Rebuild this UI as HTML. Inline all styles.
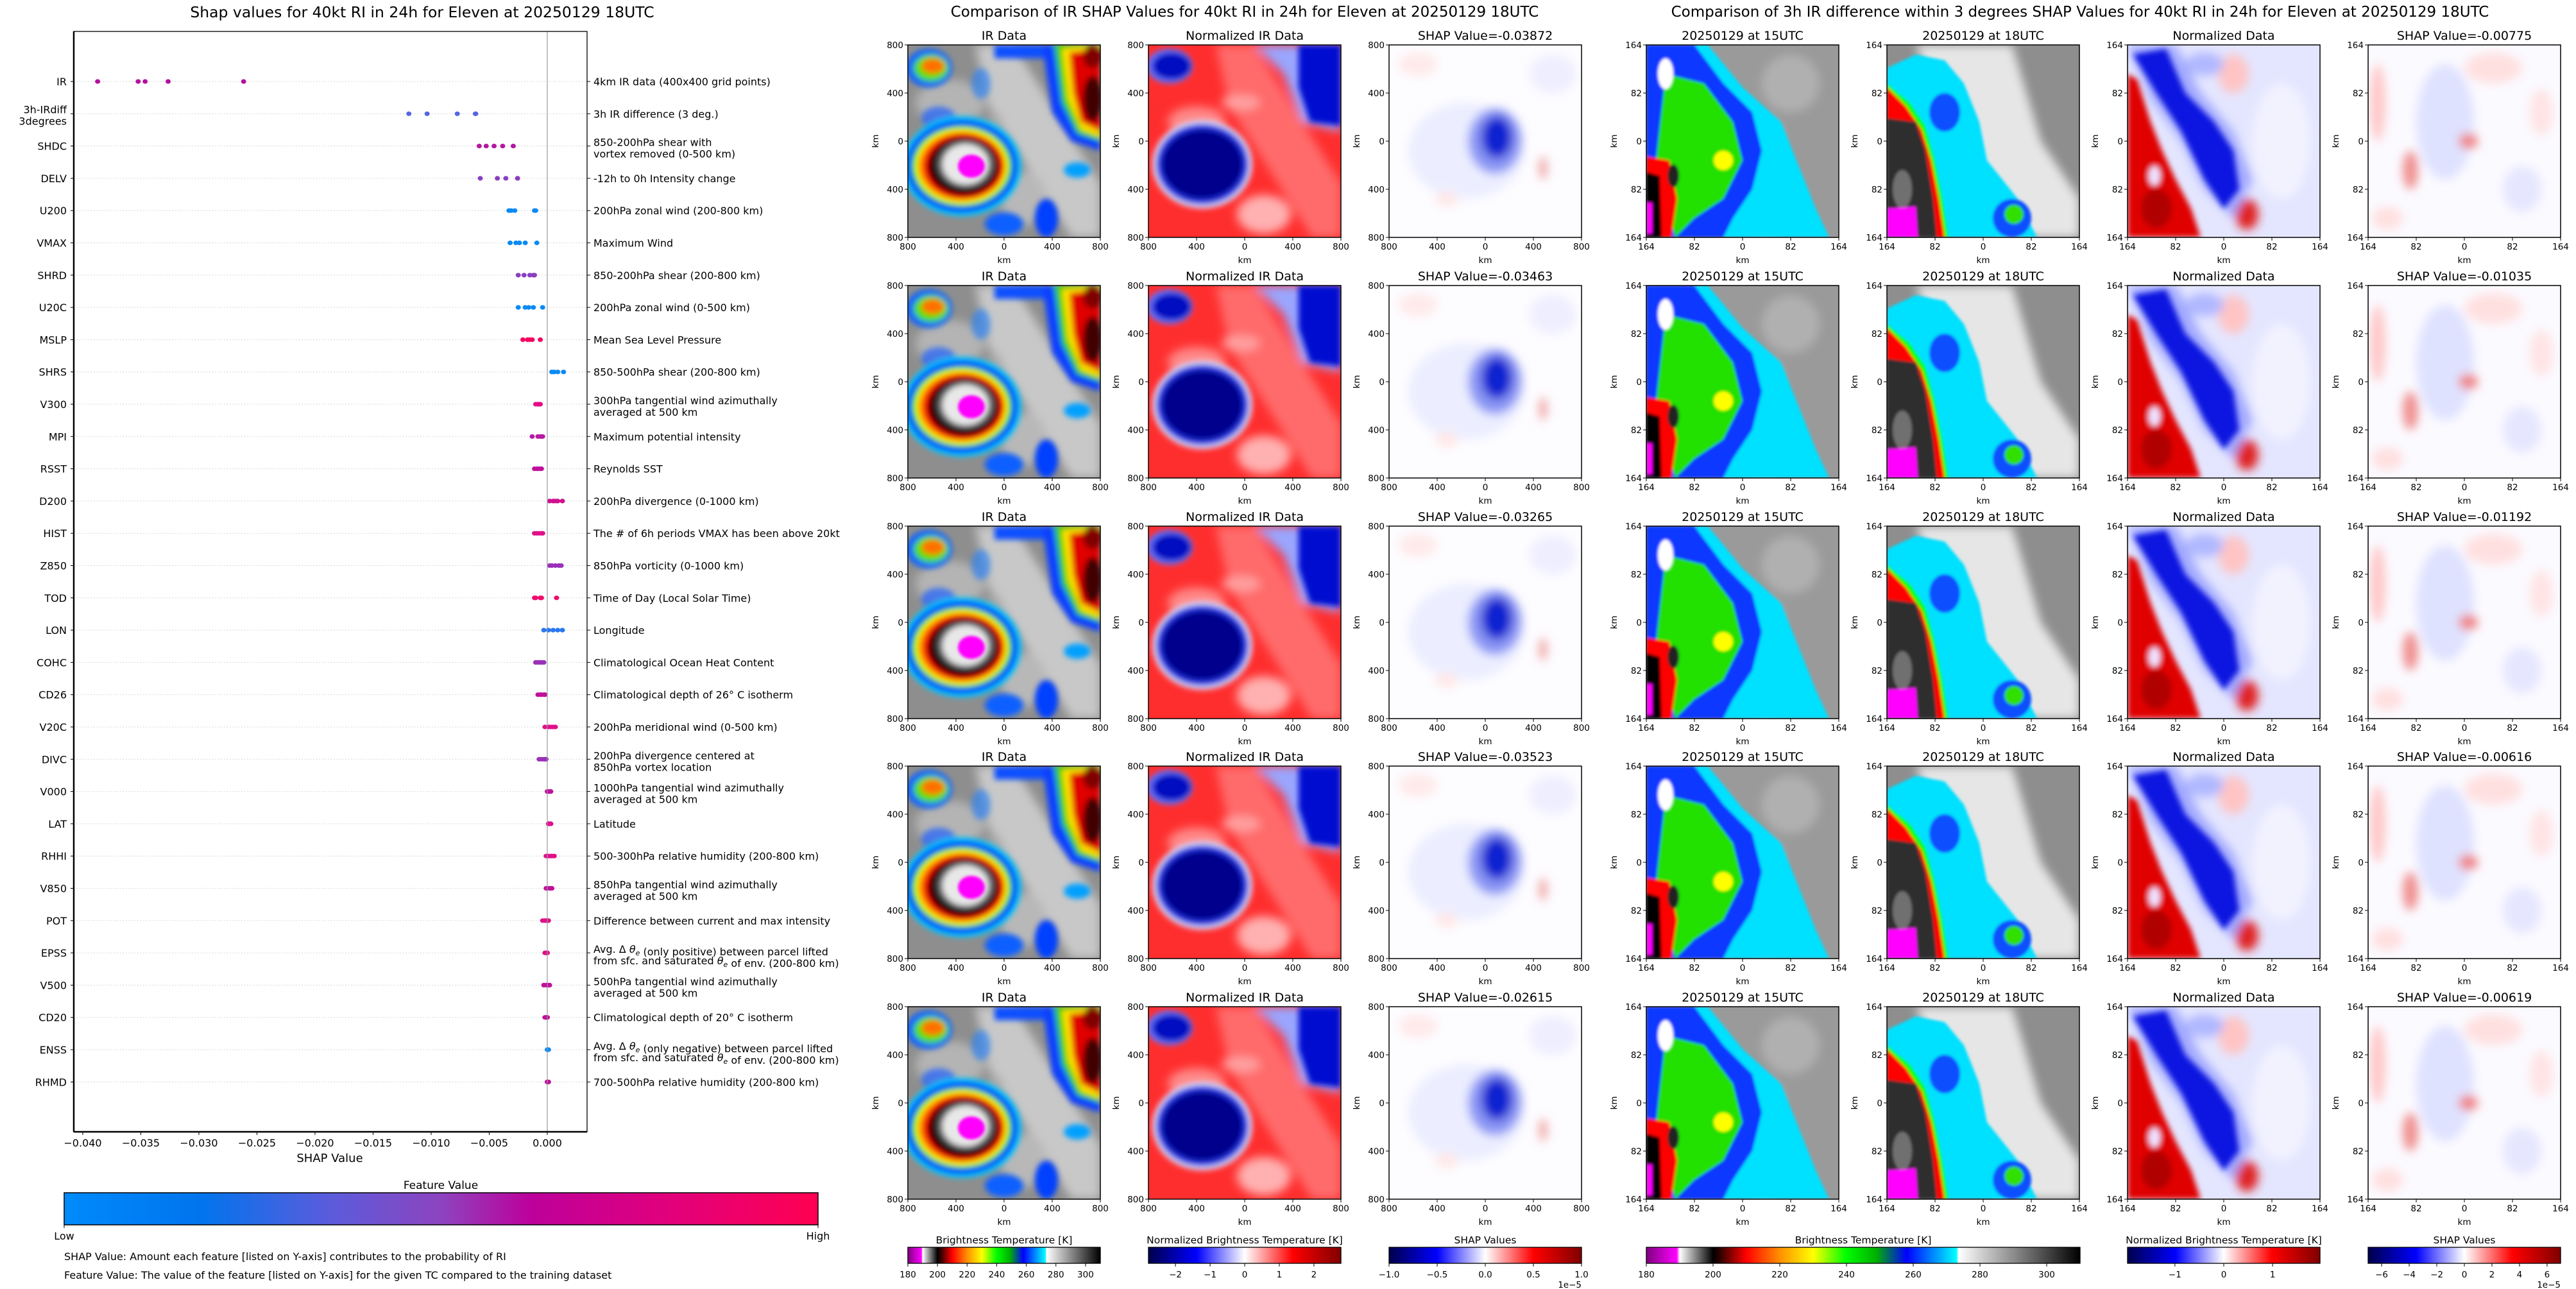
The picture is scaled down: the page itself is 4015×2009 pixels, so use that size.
<!DOCTYPE html>
<html><head><meta charset="utf-8"><style>
html,body{margin:0;padding:0;background:#fff}
svg{display:block;font-family:"DejaVu Sans","Liberation Sans",sans-serif}
</style></head><body>
<svg id="root" xmlns="http://www.w3.org/2000/svg" width="4015" height="2009" viewBox="0 0 4015 2009">
<defs>
<linearGradient id="g-feat" x1="0" x2="1" y1="0" y2="0">
<stop offset="0" stop-color="#008bfb"/><stop offset="0.18" stop-color="#0074ed"/><stop offset="0.35" stop-color="#5a5cdc"/><stop offset="0.5" stop-color="#8d44bf"/><stop offset="0.62" stop-color="#bd009b"/><stop offset="0.8" stop-color="#e1007c"/><stop offset="1" stop-color="#ff0052"/>
</linearGradient>
<linearGradient id="g-ir" x1="0" x2="1" y1="0" y2="0">
<stop offset="0" stop-color="#800080"/><stop offset="0.07" stop-color="#ff00ff"/><stop offset="0.077" stop-color="#ffffff"/><stop offset="0.154" stop-color="#000000"/><stop offset="0.17" stop-color="#300000"/><stop offset="0.23" stop-color="#ff0000"/><stop offset="0.308" stop-color="#ff9000"/><stop offset="0.385" stop-color="#ffff00"/><stop offset="0.46" stop-color="#00ff00"/><stop offset="0.53" stop-color="#00b000"/><stop offset="0.6" stop-color="#0000ff"/><stop offset="0.715" stop-color="#00ffff"/><stop offset="0.72" stop-color="#ffffff"/><stop offset="1" stop-color="#000000"/>
</linearGradient>
<linearGradient id="g-seis" x1="0" x2="1" y1="0" y2="0">
<stop offset="0" stop-color="#00004c"/><stop offset="0.25" stop-color="#0000ff"/><stop offset="0.5" stop-color="#ffffff"/><stop offset="0.75" stop-color="#ff0000"/><stop offset="1" stop-color="#800000"/>
</linearGradient>
<filter id="b2" x="-20%" y="-20%" width="140%" height="140%"><feGaussianBlur stdDeviation="2.5"/></filter>
<filter id="b1" x="-20%" y="-20%" width="140%" height="140%"><feGaussianBlur stdDeviation="1.4"/></filter>
<filter id="b05" x="-20%" y="-20%" width="140%" height="140%"><feGaussianBlur stdDeviation="0.7"/></filter>

<symbol id="sym-ir" viewBox="0 0 100 100" preserveAspectRatio="none">
<rect width="100" height="100" fill="#8e8e8e"/>
<g filter="url(#b2)">
<polygon points="35,0 55,0 100,72 100,100 85,100 42,32" fill="#c8c8c8"/>
<ellipse cx="22" cy="30" rx="18" ry="12" fill="#b4b4b4"/>
<ellipse cx="60" cy="80" rx="12" ry="14" fill="#b8b8b8"/>
<ellipse cx="45" cy="55" rx="6" ry="20" fill="#a8a8a8"/>
</g>
<g filter="url(#b1)">
<rect x="45" y="0" width="55" height="7" fill="#1050ff"/>
<polygon points="70,0 100,0 100,55 85,50 75,35 72,15" fill="#1040ff"/>
<polygon points="76,0 100,0 100,50 88,46 80,30" fill="#30d000"/>
<polygon points="80,2 100,0 100,48 90,44 83,28" fill="#ffe000"/>
<polygon points="84,4 100,2 100,45 90,40 86,25" fill="#e00000"/>
<ellipse cx="96" cy="28" rx="5" ry="12" fill="#400000"/>
<ellipse cx="96" cy="6" rx="5" ry="6" fill="#800000"/>
<ellipse cx="11" cy="12" rx="12" ry="10" fill="#1060ff"/>
<ellipse cx="12" cy="12" rx="9" ry="7" fill="#50e000"/>
<ellipse cx="13" cy="11" rx="6" ry="4" fill="#ff7000"/>
<ellipse cx="16" cy="38" rx="9" ry="6" fill="#2060ff" opacity="0.7"/>
<ellipse cx="38" cy="20" rx="5" ry="8" fill="#2080ff" opacity="0.6"/>
<ellipse cx="72" cy="90" rx="6" ry="10" fill="#0040ff"/>
<ellipse cx="50" cy="93" rx="10" ry="6" fill="#1060ff"/>
<ellipse cx="88" cy="65" rx="7" ry="4" fill="#00a0ff"/>
<ellipse cx="28" cy="63" rx="31" ry="26" fill="#00c8ff"/>
<ellipse cx="28" cy="63" rx="29" ry="24" fill="#0030ff"/>
<ellipse cx="28" cy="63" rx="26" ry="21" fill="#30e000"/>
<ellipse cx="28" cy="63" rx="24" ry="19.5" fill="#ffff00"/>
<ellipse cx="28" cy="63" rx="22.5" ry="18" fill="#ff8000"/>
<ellipse cx="29" cy="63" rx="21" ry="17" fill="#ff0000"/>
<ellipse cx="29" cy="63" rx="19" ry="15.5" fill="#700000"/>
<ellipse cx="29" cy="63" rx="17" ry="14" fill="#000000"/>
<ellipse cx="30" cy="62" rx="15" ry="12.5" fill="#606060"/>
<ellipse cx="30" cy="62" rx="12" ry="10.5" fill="#e8e8e8"/>
</g>
<g filter="url(#b05)"><ellipse cx="33" cy="63" rx="7" ry="6" fill="#ff00ff"/></g>
</symbol>

<symbol id="sym-nir" viewBox="0 0 100 100" preserveAspectRatio="none">
<rect width="100" height="100" fill="#ff2e2e"/>
<g filter="url(#b2)">
<polygon points="35,0 55,0 100,72 100,100 85,100 42,32" fill="#ff6a6a"/>
<ellipse cx="25" cy="40" rx="15" ry="8" fill="#ff8a8a"/>
<ellipse cx="60" cy="88" rx="14" ry="10" fill="#ffb0b0"/>
<ellipse cx="48" cy="30" rx="10" ry="4" fill="#ffa0a0"/>
<polygon points="55,0 100,0 100,45 80,40 70,15" fill="#9aa6ff"/>
</g>
<g filter="url(#b1)">
<polygon points="78,0 100,0 100,42 84,40 78,22" fill="#0010d0"/>
<ellipse cx="11" cy="11" rx="12" ry="9" fill="#6070ff"/>
<ellipse cx="12" cy="11" rx="10" ry="7" fill="#0010c0"/>
<ellipse cx="28" cy="62" rx="26" ry="23" fill="#d8dcff"/>
<ellipse cx="28" cy="62" rx="24" ry="21" fill="#2030e0"/>
<ellipse cx="28" cy="62" rx="21" ry="18" fill="#00008c"/>
</g>
</symbol>

<symbol id="sym-sir" viewBox="0 0 100 100" preserveAspectRatio="none">
<rect width="100" height="100" fill="#fdfcff"/>
<g filter="url(#b2)">
<ellipse cx="40" cy="55" rx="30" ry="25" fill="#eceeff"/>
<ellipse cx="15" cy="10" rx="10" ry="6" fill="#ffeaea"/>
<ellipse cx="85" cy="15" rx="12" ry="10" fill="#eeeeff"/>
<ellipse cx="30" cy="80" rx="6" ry="4" fill="#ffe8e8"/>
<ellipse cx="55" cy="50" rx="14" ry="17" fill="#8a96f4"/>
<ellipse cx="56" cy="48" rx="8" ry="11" fill="#1020d0"/>
<ellipse cx="80" cy="64" rx="2" ry="6" fill="#f0a0a0"/>
</g>
</symbol>

<symbol id="sym-a15" viewBox="0 0 100 100" preserveAspectRatio="none">
<rect width="100" height="100" fill="#9a9a9a"/>
<g filter="url(#b2)">
<ellipse cx="62" cy="85" rx="12" ry="14" fill="#e0e0e0"/>
<ellipse cx="60" cy="50" rx="10" ry="12" fill="#e8e8e8"/>
<ellipse cx="75" cy="20" rx="15" ry="15" fill="#b0b0b0"/>
</g>
<g filter="url(#b05)">
<polygon points="0,0 32,0 50,22 70,40 78,60 88,85 95,100 0,100" fill="#00e0ff"/>
<polygon points="0,0 25,0 40,20 55,35 60,55 55,75 45,90 40,100 0,100" fill="#0838ff"/>
<polygon points="10,15 30,20 45,40 50,60 40,80 25,90 15,100 5,60" fill="#20e000"/>
<ellipse cx="40" cy="60" rx="5" ry="5" fill="#ffff00"/>
<ellipse cx="10" cy="15" rx="4" ry="8" fill="#ffffff"/>
<polygon points="0,58 12,60 16,80 13,100 0,100" fill="#ff0000"/>
<polygon points="0,66 7,68 8,100 0,100" fill="#000000"/>
<ellipse cx="14" cy="68" rx="3" ry="6" fill="#202020"/>
<rect x="0" y="82" width="3" height="16" fill="#ff00ff"/>
</g>
</symbol>

<symbol id="sym-a18" viewBox="0 0 100 100" preserveAspectRatio="none">
<rect width="100" height="100" fill="#8e8e8e"/>
<g filter="url(#b2)">
<polygon points="15,0 65,0 80,50 100,80 100,100 55,100" fill="#e6e6e6"/>
</g>
<g filter="url(#b05)">
<polygon points="0,12 15,5 30,8 40,20 48,40 52,60 68,80 78,100 20,100 0,45" fill="#00e0ff"/>
<ellipse cx="30" cy="35" rx="8" ry="10" fill="#0a50ff"/>
<ellipse cx="65" cy="90" rx="10" ry="10" fill="#0a50ff"/>
<ellipse cx="66" cy="88" rx="5" ry="5" fill="#30e000"/>
<ellipse cx="60" cy="55" rx="5" ry="8" fill="#e6e6e6"/>
<polygon points="0,20 12,30 20,42 25,60 29,80 32,100 0,100" fill="#00ff00"/>
<polygon points="0,22 10,32 18,44 23,60 27,80 30,100 0,100" fill="#ff0000"/>
<polygon points="0,38 15,40 20,55 24,80 26,100 0,100" fill="#2e2e2e"/>
<ellipse cx="8" cy="75" rx="5" ry="10" fill="#707070"/>
<polygon points="0,85 15,84 16,100 0,100" fill="#ff00ff"/>
</g>
</symbol>

<symbol id="sym-n3" viewBox="0 0 100 100" preserveAspectRatio="none">
<rect width="100" height="100" fill="#e4e6ff"/>
<g filter="url(#b2)">
<ellipse cx="55" cy="15" rx="8" ry="10" fill="#ffc4c4"/>
<ellipse cx="80" cy="50" rx="15" ry="30" fill="#f2f2ff"/>
<ellipse cx="62" cy="88" rx="6" ry="8" fill="#e02020"/>
<ellipse cx="40" cy="10" rx="10" ry="6" fill="#b0b8ff"/>
<polygon points="0,0 25,0 38,25 55,45 65,70 55,90 40,75 28,50 12,28" fill="#a0a8ff"/>
</g>
<g filter="url(#b1)">
<polygon points="3,5 20,2 30,25 45,40 55,55 58,75 50,85 40,70 28,45 15,25" fill="#0818e0"/>
<polygon points="0,15 5,18 12,40 18,55 25,70 33,85 38,100 0,100" fill="#e00000"/>
<ellipse cx="15" cy="85" rx="8" ry="10" fill="#b00000"/>
<ellipse cx="14" cy="68" rx="3" ry="5" fill="#f0e0ff"/>
</g>
</symbol>

<symbol id="sym-s3" viewBox="0 0 100 100" preserveAspectRatio="none">
<rect width="100" height="100" fill="#fbfaff"/>
<g filter="url(#b2)">
<ellipse cx="5" cy="30" rx="4" ry="20" fill="#ffc8c8"/>
<ellipse cx="40" cy="40" rx="15" ry="30" fill="#dfe2ff"/>
<ellipse cx="65" cy="12" rx="15" ry="8" fill="#ffe0e0"/>
<ellipse cx="52" cy="50" rx="5" ry="4" fill="#f08080"/>
<ellipse cx="22" cy="65" rx="4" ry="10" fill="#f09090"/>
<ellipse cx="80" cy="75" rx="10" ry="12" fill="#e6e6ff"/>
<ellipse cx="10" cy="90" rx="8" ry="6" fill="#ffe0e0"/>
<ellipse cx="90" cy="35" rx="6" ry="12" fill="#ffe4e4"/>
</g>
</symbol>
</defs>
<g id="layer"></g>
</svg>
<script>
// ===== SHAP summary chart data =====
const features = ["IR","3h-IRdiff|3degrees","SHDC","DELV","U200","VMAX","SHRD","U20C","MSLP","SHRS","V300","MPI","RSST","D200","HIST","Z850","TOD","LON","COHC","CD26","V20C","DIVC","V000","LAT","RHHI","V850","POT","EPSS","V500","CD20","ENSS","RHMD"];
const descriptions = ["4km IR data (400x400 grid points)","3h IR difference (3 deg.)","850-200hPa shear with|vortex removed (0-500 km)","-12h to 0h Intensity change","200hPa zonal wind (200-800 km)","Maximum Wind","850-200hPa shear (200-800 km)","200hPa zonal wind (0-500 km)","Mean Sea Level Pressure","850-500hPa shear (200-800 km)","300hPa tangential wind azimuthally|averaged at 500 km","Maximum potential intensity","Reynolds SST","200hPa divergence (0-1000 km)","The # of 6h periods VMAX has been above 20kt","850hPa vorticity (0-1000 km)","Time of Day (Local Solar Time)","Longitude","Climatological Ocean Heat Content","Climatological depth of 26° C isotherm","200hPa meridional wind (0-500 km)","200hPa divergence centered at|850hPa vortex location","1000hPa tangential wind azimuthally|averaged at 500 km","Latitude","500-300hPa relative humidity (200-800 km)","850hPa tangential wind azimuthally|averaged at 500 km","Difference between current and max intensity","Avg. Δ @ (only positive) between parcel lifted|from sfc. and saturated @ of env. (200-800 km)","500hPa tangential wind azimuthally|averaged at 500 km","Climatological depth of 20° C isotherm","Avg. Δ @ (only negative) between parcel lifted|from sfc. and saturated @ of env. (200-800 km)","700-500hPa relative humidity (200-800 km)"];
const shapValues = [
[-0.03872,-0.03463,-0.03265,-0.03523,-0.02615],
[-0.00775,-0.01035,-0.01192,-0.00616,-0.00619],
[-0.00586,-0.00526,-0.00458,-0.00384,-0.00293],
[-0.00577,-0.0043,-0.00357,-0.00256,-0.00256],
[-0.0033,-0.0031,-0.0028,-0.0011,-0.001],
[-0.0032,-0.0027,-0.0024,-0.0019,-0.0009],
[-0.0025,-0.002,-0.0015,-0.0012,-0.0011],
[-0.0025,-0.0019,-0.0016,-0.0012,-0.0004],
[-0.0021,-0.0017,-0.0015,-0.0013,-0.0006],
[0.0004,0.0006,0.0009,0.0014,0.0004],
[-0.001,-0.0008,-0.0007,-0.0006,-0.0008],
[-0.0013,-0.0008,-0.0006,-0.0004,-0.0005],
[-0.0011,-0.0009,-0.0008,-0.0006,-0.0005],
[0.0002,0.0005,0.0007,0.0009,0.0013],
[-0.0011,-0.0009,-0.0007,-0.0005,-0.0004],
[0.0002,0.0004,0.0007,0.001,0.0012],
[-0.0011,-0.001,-0.0006,-0.0005,0.0008],
[-0.0003,0.0001,0.0005,0.0009,0.0013],
[-0.001,-0.0008,-0.0006,-0.0005,-0.0003],
[-0.0008,-0.0006,-0.0005,-0.0003,-0.0002],
[-0.0002,0.0001,0.0003,0.0005,0.0007],
[-0.0007,-0.0005,-0.0003,-0.0002,-0.0001],
[0,0.0001,0.0002,0.0002,0.0003],
[0.0001,0.0001,0.0002,0.0003,0.0003],
[-0.0001,0.0001,0.0003,0.0004,0.0006],
[-0.0001,0,0.0002,0.0003,0.0004],
[-0.0004,-0.0002,-0.0001,0,0.0001],
[-0.0002,-0.0001,-0.0001,0,0],
[-0.0003,-0.0001,0,0.0001,0.0002],
[-0.0002,-0.0001,-0.0001,0,0],
[0,0.00005,0.0001,0.0001,0],
[0,0.00005,0.0001,0.0001,0]];
const dotColors = ["#b3119d","#5865e0","#b3189f","#8a3fc0","#0a8af5","#0a8af5","#8a3fc0","#0a8af5","#f5055f","#0a8af5","#e60a85","#b81aa5","#c0109a","#d0108f","#e0108a","#9a30b8","#f00a6a","#2a78f0","#9a30b8","#c0109a","#e0108a","#9a30b8","#c0109a","#e0108a","#e0108a","#c0109a","#e0108a","#e0108a","#c0109a","#c0109a","#0a8af5","#c0109a"];
const xTicks = [-0.04,-0.035,-0.03,-0.025,-0.02,-0.015,-0.01,-0.005,0];
const xTickLabels = ["\u22120.040","\u22120.035","\u22120.030","\u22120.025","\u22120.020","\u22120.015","\u22120.010","\u22120.005","0.000"];
// ===== panel titles =====
const irShapTitles = ["SHAP Value=-0.03872","SHAP Value=-0.03463","SHAP Value=-0.03265","SHAP Value=-0.03523","SHAP Value=-0.02615"];
const diffShapTitles = ["SHAP Value=-0.00775","SHAP Value=-0.01035","SHAP Value=-0.01192","SHAP Value=-0.00616","SHAP Value=-0.00619"];

const NS="http://www.w3.org/2000/svg";
const layer=document.getElementById('layer');
function mk(tag,attrs,parent){const e=document.createElementNS(NS,tag);for(const k in attrs)e.setAttribute(k,attrs[k]);(parent||layer).appendChild(e);return e;}
function txt(s,x,y,size,anchor,parent,extra){const e=mk('text',Object.assign({x:x,y:y,'font-size':size,'text-anchor':anchor||'start',fill:'#000'},extra||{}),parent);e.textContent=s;return e;}

const AX={l:115,r:915,t:49,b:1764};
function xs(v){return 853+v*18100;}
function ys(i){return 127+i*50.3;}

const lc=mk('g',{});


let t=txt("Shap values for 40kt RI in 24h for Eleven at 20250129 18UTC",658,27,23.5,'middle',lc);


features.forEach((f,i)=>{
  const y=ys(i);
  const gl=mk('line',{x1:AX.l,x2:AX.r,y1:y,y2:y,stroke:'#cccccc','stroke-width':1,'stroke-dasharray':'1.5,3'},lc);
  
  
  mk('line',{x1:AX.l-5,x2:AX.l,y1:y,y2:y,stroke:'#000'},lc);
  mk('line',{x1:AX.r,x2:AX.r+5,y1:y,y2:y,stroke:'#000'},lc);
  const parts=f.split('|');
  parts.forEach((p,k)=>{
    const yy=parts.length>1?(k==0?y-7:y+11):y;
    const e=txt(p,104,yy+6,16,'end',lc);
    
    
  });
  const dl=descriptions[i].split('|');
  dl.forEach((p,k)=>{
    const yy=dl.length>1?(k==0?y-6:y+12):y;
    const e=mk('text',{x:925,y:yy+6,'font-size':16,fill:'#000'},lc);
    
    
    const segs=p.split('@');
    segs.forEach((s,j)=>{
      const ts=mk('tspan',{},e);ts.textContent=s;
      if(j<segs.length-1){
        const th=mk('tspan',{'font-style':'italic'},e);th.textContent='θ';
        const sb=mk('tspan',{'font-size':11,'font-style':'italic',dy:4},e);sb.textContent='e';
        const rs=mk('tspan',{dy:-4},e);rs.textContent='';
      }
    });
  });
  shapValues[i].forEach(v=>{
    const d=mk('ellipse',{cx:xs(v),cy:y,rx:4,ry:3.6,fill:dotColors[i]},lc);
    
    
  });
});
const zl=mk('line',{x1:xs(0),x2:xs(0),y1:AX.t,y2:AX.b,stroke:'#999',"stroke-width":1.2},lc);


const fr=mk('rect',{x:AX.l,y:AX.t,width:AX.r-AX.l,height:AX.b-AX.t,fill:'none',stroke:'#000','stroke-width':1.3},lc);


mk('line',{x1:AX.l,x2:AX.r,y1:AX.b,y2:AX.b,stroke:'#000','stroke-width':2.5},lc);
mk('line',{x1:AX.l,x2:AX.l,y1:AX.t,y2:AX.b,stroke:'#000','stroke-width':2.5},lc);
xTicks.forEach((v,k)=>{
  mk('line',{x1:xs(v),x2:xs(v),y1:AX.b,y2:AX.b+5,stroke:'#000'},lc);
  const e=txt(xTickLabels[k],xs(v),1787,16,'middle',lc);
  
  
});
t=txt("SHAP Value",514,1811,18,'middle',lc);


t=txt("Feature Value",687,1853,17,'middle',lc);


const fb=mk('rect',{x:100,y:1859,width:1175,height:50,fill:'url(#g-feat)',stroke:'#000','stroke-width':1.5},lc);


mk('line',{x1:100,x2:100,y1:1909,y2:1914,stroke:'#000'},lc);
mk('line',{x1:1275,x2:1275,y1:1909,y2:1914,stroke:'#000'},lc);
t=txt("Low",100,1932,16,'middle',lc);


t=txt("High",1275,1932,16,'middle',lc);


t=txt("SHAP Value: Amount each feature [listed on Y-axis] contributes to the probability of RI",100,1964,16,'start',lc);


t=txt("Feature Value: The value of the feature [listed on Y-axis] for the given TC compared to the training dataset",100,1993,16,'start',lc);



// ===== image panels =====
const rowsY=[70,445,820,1194,1569];
const sec2X=[1415,1790,2165];
const sec3X=[2566,2941,3316,3691];
const P=300;
t=txt("Comparison of IR SHAP Values for 40kt RI in 24h for Eleven at 20250129 18UTC",1940,26,23,'middle');


t=txt("Comparison of 3h IR difference within 3 degrees SHAP Values for 40kt RI in 24h for Eleven at 20250129 18UTC",3242,26,23,'middle');



function panel(x0,y0,sym,title,ticks,name){
  const g=mk('g',{});
  
  
  mk('use',{href:'#'+sym,x:x0,y:y0,width:P,height:P},g);
  mk('rect',{x:x0,y:y0,width:P,height:P,fill:'none',stroke:'#000','stroke-width':1.5},g);
  const tt=txt(title,x0+P/2,y0-8,19,'middle',g);
  
  
  ticks.forEach((lab,k)=>{
    const px=x0+k*P/4, py=y0+k*P/4;
    mk('line',{x1:px,x2:px,y1:y0+P,y2:y0+P+5,stroke:'#000'},g);
    mk('line',{x1:x0-5,x2:x0,y1:py,y2:py,stroke:'#000'},g);
    txt(lab,px,y0+P+19,13.5,'middle',g);
    txt(lab,x0-7,py+5,13.5,'end',g);
  });
  txt("km",x0+P/2,y0+P+40,13.5,'middle',g);
  txt("km",0,0,13.5,'middle',g,{transform:`translate(${x0-46},${y0+P/2}) rotate(-90)`});
}
const irT=["800","400","0","400","800"], dT=["164","82","0","82","164"];
rowsY.forEach((y,r)=>{
  panel(sec2X[0],y,'sym-ir',"IR Data",irT,'ir-data-panel');
  panel(sec2X[1],y,'sym-nir',"Normalized IR Data",irT,'normalized-ir-panel');
  panel(sec2X[2],y,'sym-sir',irShapTitles[r],irT,'ir-shap-panel');
  panel(sec3X[0],y,'sym-a15',"20250129 at 15UTC",dT,'ir-15utc-panel');
  panel(sec3X[1],y,'sym-a18',"20250129 at 18UTC",dT,'ir-18utc-panel');
  panel(sec3X[2],y,'sym-n3',"Normalized Data",dT,'normalized-diff-panel');
  panel(sec3X[3],y,'sym-s3',diffShapTitles[r],dT,'diff-shap-panel');
});

// ===== colorbars =====
function cbar(x0,w,grad,title,vmin,vmax,tvals,tlabs,name,exp){
  const g=mk('g',{});
  
  
  txt(title,x0+w/2,1938,15.5,'middle',g);
  mk('rect',{x:x0,y:1944,width:w,height:25,fill:'url(#'+grad+')',stroke:'#000','stroke-width':1.3},g);
  tvals.forEach((v,k)=>{
    const px=x0+(v-vmin)/(vmax-vmin)*w;
    mk('line',{x1:px,x2:px,y1:1969,y2:1974,stroke:'#000'},g);
    txt(tlabs[k],px,1991,13.5,'middle',g);
  });
  if(exp) txt("1e\u22125",x0+w,2007,13.5,'end',g);
}
cbar(1415,300,'g-ir',"Brightness Temperature [K]",180,310,[180,200,220,240,260,280,300],["180","200","220","240","260","280","300"],'ir-colorbar');
cbar(1790,300,'g-seis',"Normalized Brightness Temperature [K]",-2.78,2.78,[-2,-1,0,1,2],["\u22122","\u22121","0","1","2"],'normalized-colorbar');
cbar(2165,300,'g-seis',"SHAP Values",-1,1,[-1,-0.5,0,0.5,1],["\u22121.0","\u22120.5","0.0","0.5","1.0"],'ir-shap-colorbar',true);
cbar(2566,676,'g-ir',"Brightness Temperature [K]",180,310,[180,200,220,240,260,280,300],["180","200","220","240","260","280","300"],'diff-ir-colorbar');
cbar(3316,300,'g-seis',"Normalized Brightness Temperature [K]",-1.97,1.97,[-1,0,1],["\u22121","0","1"],'diff-normalized-colorbar');
cbar(3691,300,'g-seis',"SHAP Values",-6.98,6.98,[-6,-4,-2,0,2,4,6],["\u22126","\u22124","\u22122","0","2","4","6"],'diff-shap-colorbar',true);
</script>
</body></html>
